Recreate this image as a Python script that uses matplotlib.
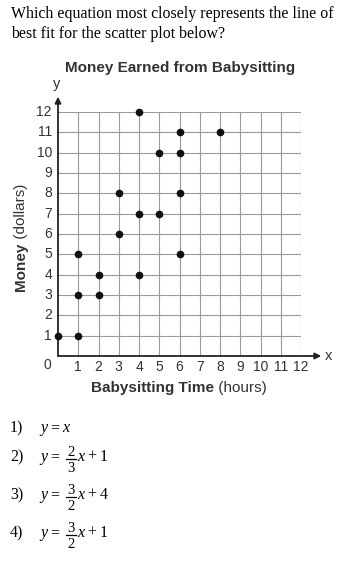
import numpy as np
import matplotlib
matplotlib.use('Agg')
import matplotlib.pyplot as plt
from matplotlib.lines import Line2D

# scatter data (hours, dollars)
hours = [0, 1, 1, 1, 2, 2, 3, 3, 4, 4, 4, 5, 5, 6, 6, 6, 6, 8]
dollars = [1, 1, 3, 5, 3, 4, 6, 8, 4, 7, 12, 7, 10, 5, 8, 10, 11, 11]
ticks = list(range(1, 13))
question = ['Which equation most closely represents the line of',
            'best fit for the scatter plot below?']
choices = ['1)', '2)', '3)', '4)']
# answer options: y = (num/den) x + b ; first one is y = x
slope_num = [None, '2', '3', '3']
slope_den = [None, '3', '2', '2']
intercept = [None, '1', '4', '1']

W, H = 362, 570
fig = plt.figure(figsize=(W / 100, H / 100), dpi=100)

def fx(px):
    return px / W

def fy(py):
    return 1 - py / H

serif = 'Liberation Serif'

# question text (serif)
for i, line in enumerate(question):
    fig.text(fx(11), fy(14 + i * 20), line, family=serif, fontsize=11.4,
             va='center', ha='left', color='black')

# plot area
gl, gr, gt, gb = 58, 301, 112, 356
ax = fig.add_axes([fx(gl), fy(gb), fx(gr - gl), (gb - gt) / H])
ax.set_xlim(0, 12)
ax.set_ylim(0, 12)
for v in ticks:
    ax.axvline(v, color='#9a9a9a', lw=0.8, zorder=1)
    ax.axhline(v, color='#9a9a9a', lw=0.8, zorder=1)
for s in ax.spines.values():
    s.set_visible(False)
ax.set_xticks([])
ax.set_yticks([])
ax.patch.set_alpha(0)

# axes with arrows
ax.annotate('', xy=(13.0, 0), xytext=(0, 0), annotation_clip=False,
            arrowprops=dict(arrowstyle='-|>', color='#222222', lw=1.3, mutation_scale=9, shrinkA=0, shrinkB=0))
ax.annotate('', xy=(0, 12.75), xytext=(0, 0), annotation_clip=False,
            arrowprops=dict(arrowstyle='-|>', color='#222222', lw=1.3, mutation_scale=9, shrinkA=0, shrinkB=0))

ax.plot(hours, dollars, 'o', color='#111111', ms=4.5, clip_on=False, zorder=3)

tc = '#333333'
for v in ticks:
    ax.text(v, -0.55, str(v), ha='center', va='center', fontsize=10, family='Liberation Sans', color=tc)
    ax.text(-0.3, v, str(v), ha='right', va='center', fontsize=10, family='Liberation Sans', color=tc)
ax.text(-0.35, -0.45, '0', ha='right', va='center', fontsize=10, family='Liberation Sans', color=tc)
ax.text(13.35, 0, 'x', ha='center', va='center', fontsize=10.5, family='Liberation Sans', color=tc)
ax.text(-0.05, 13.4, 'y', ha='center', va='center', fontsize=10.5, family='Liberation Sans', color=tc)

# titles
fig.text(fx(180), fy(68), 'Money Earned from Babysitting', ha='center', va='center',
         fontsize=11, weight='bold', family='Liberation Sans', color=tc)
xl = fig.text(fx(91), fy(388), 'Babysitting Time', ha='left', va='center',
              fontsize=11, weight='bold', family='Liberation Sans', color=tc)
ax.annotate(' (hours)', xy=(1, 0.5), xycoords=xl, ha='left', va='center',
            fontsize=11, family='Liberation Sans', color=tc)
yl = fig.text(fx(21), fy(291), 'Money', rotation=90, ha='center', va='bottom',
              fontsize=11, weight='bold', family='Liberation Sans', color=tc)
ax.annotate(' (dollars)', xy=(0.5, 1), xycoords=yl, rotation=90, ha='center', va='bottom',
            fontsize=11, family='Liberation Sans', color=tc)

# answer choices, typeset by hand so fractions come out full size
fs = 11.5
baselines = [432, 461, 499, 537]
kw = dict(va='baseline', fontsize=fs, family=serif, color='black')
fkw = dict(kw, fontsize=10.5)
for k, (lab, b) in enumerate(zip(choices, baselines)):
    fig.text(fx(10), fy(b), lab, ha='left', **kw)
    fig.text(fx(40), fy(b), 'y', ha='left', style='italic', **kw)
    fig.text(fx(50), fy(b), '=', ha='left', **kw)
    if slope_num[k] is None:
        fig.text(fx(62), fy(b), 'x', ha='left', style='italic', **kw)
        continue
    fig.text(fx(70.5), fy(b - 5), slope_num[k], ha='center', **fkw)
    fig.text(fx(70.5), fy(b + 11), slope_den[k], ha='center', **fkw)
    fig.add_artist(Line2D([fx(65.5), fx(75.5)], [fy(b - 2), fy(b - 2)], color='black', lw=0.9))
    fig.text(fx(77.5), fy(b), 'x', ha='left', style='italic', **kw)
    fig.text(fx(87.5), fy(b), '+', ha='left', **kw)
    fig.text(fx(100), fy(b), intercept[k], ha='left', **kw)

fig.savefig('out.png', dpi=100)
